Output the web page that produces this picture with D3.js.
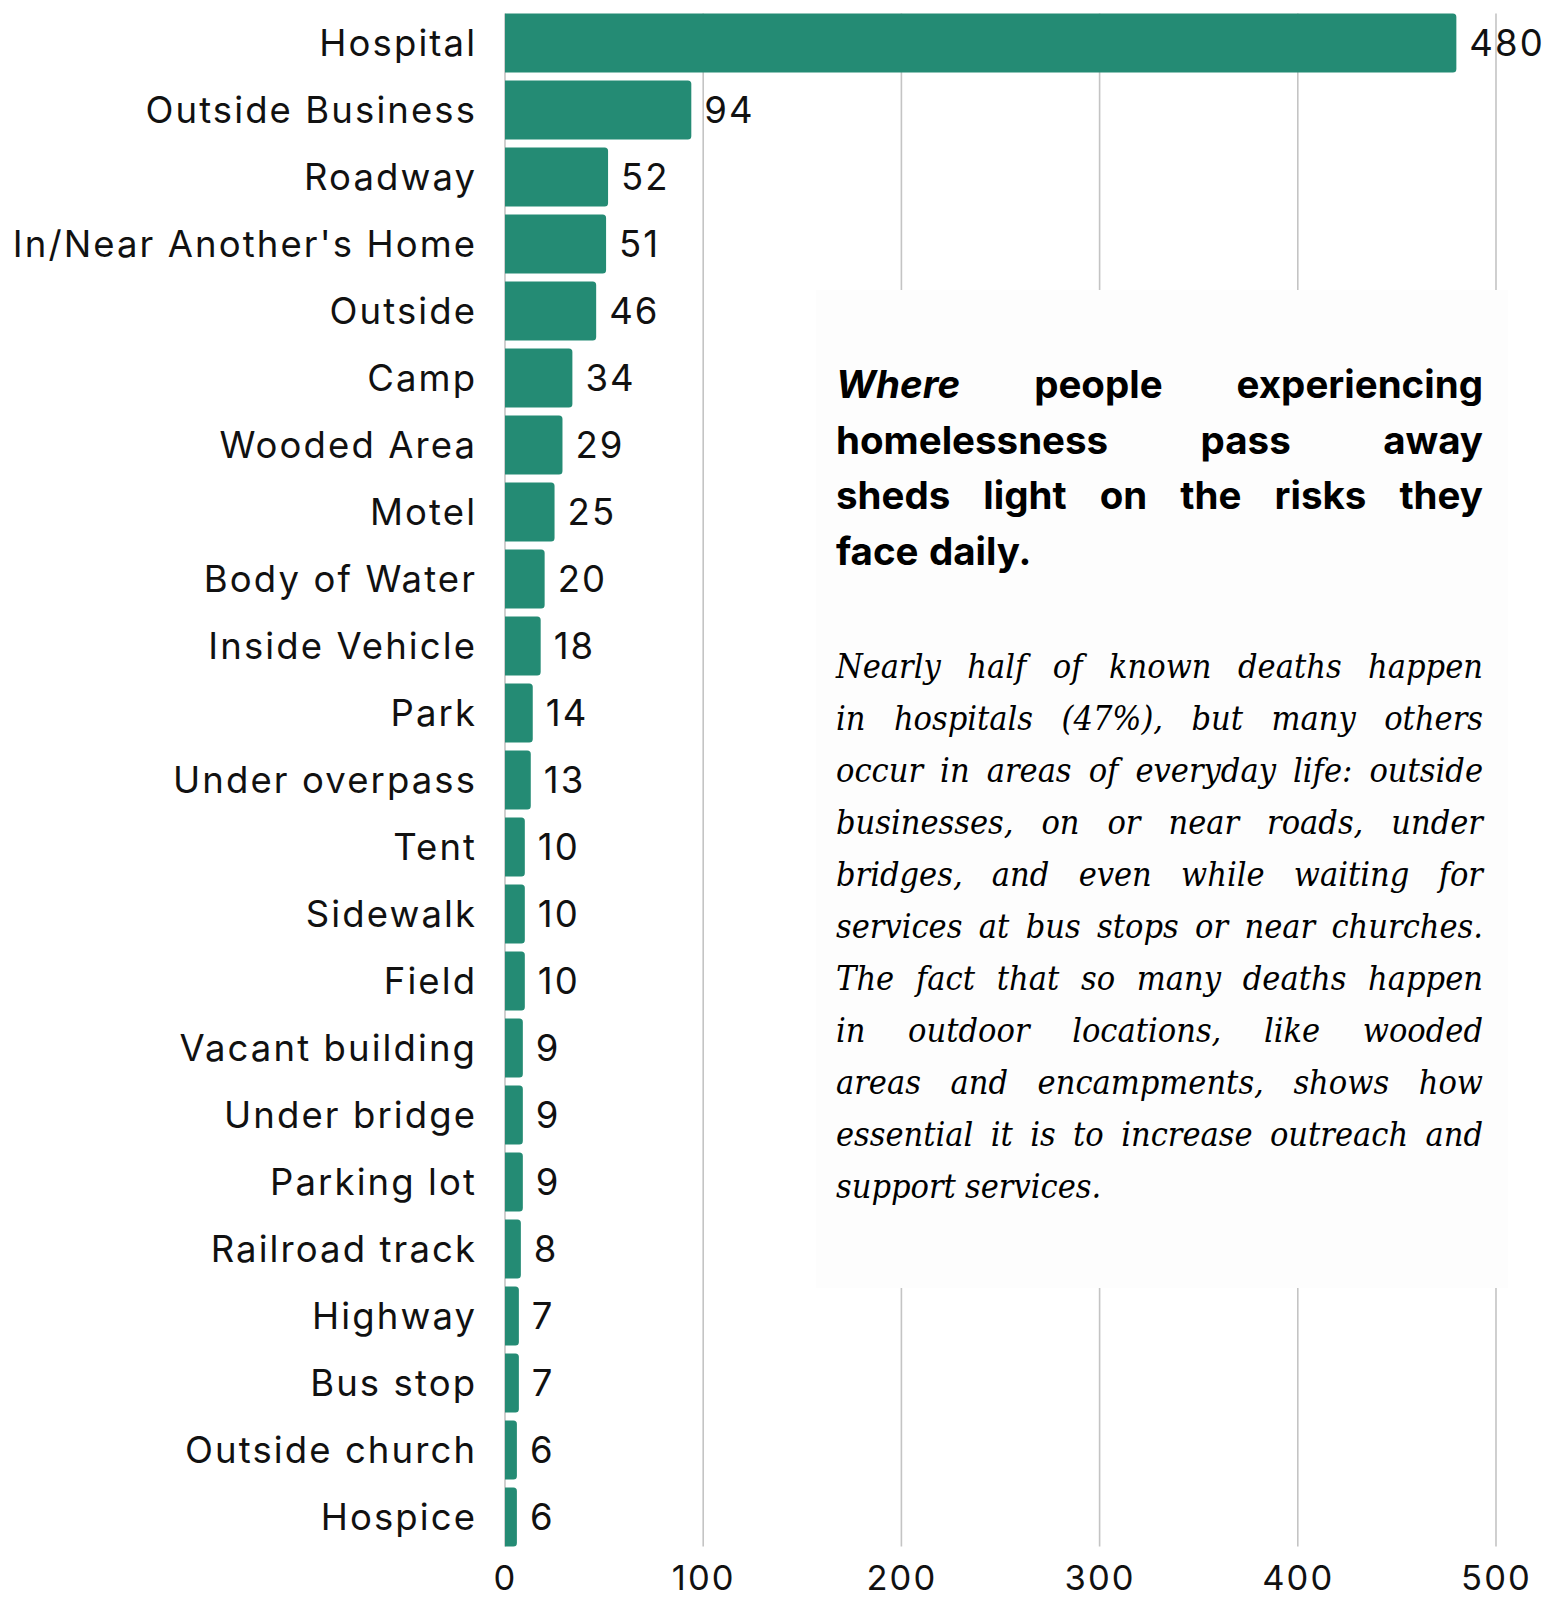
<!DOCTYPE html>
<html>
<head>
<meta charset="utf-8">
<script src="https://cdn.jsdelivr.net/npm/d3@7"></script>
<style>
  html, body { margin: 0; padding: 0; background: #fff; }
  svg { display: block; }
</style>
</head>
<body>
<svg id="chart" width="1548" height="1600"></svg>
<script>
const categories = ["Hospital","Outside Business","Roadway","In/Near Another's Home","Outside","Camp","Wooded Area","Motel","Body of Water","Inside Vehicle","Park","Under overpass","Tent","Sidewalk","Field","Vacant building","Under bridge","Parking lot","Railroad track","Highway","Bus stop","Outside church","Hospice"];
const values = [480,94,52,51,46,34,29,25,20,18,14,13,10,10,10,9,9,9,8,7,7,6,6];
const tickValues = [0,100,200,300,400,500];
const titleLines = [
  [{t:"Where", i:true}, {t:"people"}, {t:"experiencing"}],
  [{t:"homelessness"}, {t:"pass"}, {t:"away"}],
  [{t:"sheds"},{t:"light"},{t:"on"},{t:"the"},{t:"risks"},{t:"they"}],
  [{t:"face"},{t:"daily."}]
];
const bodyLines = [
  "Nearly half of known deaths happen",
  "in hospitals (47%), but many others",
  "occur in areas of everyday life: outside",
  "businesses, on or near roads, under",
  "bridges, and even while waiting for",
  "services at bus stops or near churches.",
  "The fact that so many deaths happen",
  "in outdoor locations, like wooded",
  "areas and encampments, shows how",
  "essential it is to increase outreach and",
  "support services."
];

const SANS = "Inter, 'Noto Sans', sans-serif";
const SERIF = "'DejaVu Serif Condensed', 'DejaVu Serif', 'Liberation Serif', serif";
const svg = d3.select("#chart");
const barColor = "#248b74";

const x = d3.scaleLinear().domain([0, 500]).range([505, 1496]);
const y = d3.scaleBand().domain(categories).range([9.4, 1550.4]).paddingInner(0.12).paddingOuter(0.06);

// gridlines
const gTop = y(categories[0]);
const gBot = y(categories[categories.length-1]) + y.bandwidth();
svg.append("g").selectAll("line").data(tickValues).join("line")
  .attr("x1", d => x(d)).attr("x2", d => x(d))
  .attr("y1", gTop).attr("y2", gBot)
  .attr("stroke", "#c4c4c4").attr("stroke-width", 1.6);

// bars with rounded right corners
const r = 3.5;
function barPath(d, i) {
  const x0 = x(0), x1 = x(values[i]), y0 = y(d), h = y.bandwidth();
  const rr = Math.min(r, (x1 - x0) / 2);
  return `M${x0},${y0}H${x1-rr}Q${x1},${y0} ${x1},${y0+rr}V${y0+h-rr}Q${x1},${y0+h} ${x1-rr},${y0+h}H${x0}Z`;
}
svg.append("g").selectAll("path").data(categories).join("path")
  .attr("d", (d, i) => barPath(d, i))
  .attr("fill", barColor);

// category labels
const labelSize = 36.5;
const LS = 2.1;
svg.append("g").selectAll("text").data(categories).join("text")
  .attr("x", 475 + LS).attr("y", d => y(d) + y.bandwidth()/2)
  .attr("dy", "0.35em")
  .attr("text-anchor", "end")
  .attr("font-family", SANS).attr("font-size", labelSize).attr("font-weight", 400)
  .attr("letter-spacing", LS)
  .attr("fill", "#111")
  .text(d => d);

// value labels
svg.append("g").selectAll("text").data(categories).join("text")
  .attr("x", (d, i) => x(values[i]) + 13)
  .attr("y", d => y(d) + y.bandwidth()/2)
  .attr("dy", "0.35em")
  .attr("font-family", SANS).attr("font-size", labelSize).attr("font-weight", 400)
  .attr("letter-spacing", LS)
  .attr("fill", "#111")
  .text((d, i) => values[i]);

// x axis tick labels
const axis = d3.axisBottom(x).tickValues(tickValues).tickSize(0).tickPadding(0);
const ax = svg.append("g").attr("transform", "translate(0,1565)").call(axis);
ax.select(".domain").remove();
ax.selectAll("text").attr("font-family", SANS).attr("font-size", 34.5).attr("fill", "#111")
  .attr("letter-spacing", LS).attr("dy", "0.71em");

// annotation box
svg.append("rect").attr("x", 816).attr("y", 290).attr("width", 692).attr("height", 998).attr("fill", "#fdfdfd");

const textLeft = 836, textRight = 1483, textW = textRight - textLeft;

function fitSize(lineWords, family, weight, italic, target) {
  const probe = svg.append("text").attr("font-family", family).attr("font-size", 100)
    .attr("font-weight", weight).attr("font-style", italic ? "italic" : "normal")
    .text(lineWords);
  const w = probe.node().getComputedTextLength();
  probe.remove();
  return 100 * target / w;
}

function justify(g, lines, baseY, lh, family, weight, size, allItalic) {
  lines.forEach((words, li) => {
    const isLast = li === lines.length - 1;
    const nodes = words.map(w => g.append("text")
      .attr("font-family", family).attr("font-size", size)
      .attr("font-weight", weight)
      .attr("font-style", (w.i || allItalic) ? "italic" : "normal")
      .attr("fill", "#000")
      .attr("y", baseY + li * lh)
      .text(w.t));
    const widths = nodes.map(n => n.node().getComputedTextLength());
    const total = d3.sum(widths);
    const spaceW = size * 0.27;
    const gap = (isLast || words.length < 2) ? spaceW : (textW - total) / (words.length - 1);
    let cx = textLeft;
    nodes.forEach((n, k) => { n.attr("x", cx); cx += widths[k] + gap; });
  });
}

const titleG = svg.append("g");
justify(titleG, titleLines, 398, 55.5, SANS, 700, 38.5, false);

const bodySize = Math.min(34, fitSize(bodyLines[5], SERIF, 400, true, textW * 0.995));
const bodyG = svg.append("g");
const bodyWords = bodyLines.map(l => l.split(" ").map(t => ({t})));
justify(bodyG, bodyWords, 678, 52, SERIF, 400, bodySize, true);
</script>
</body>
</html>
